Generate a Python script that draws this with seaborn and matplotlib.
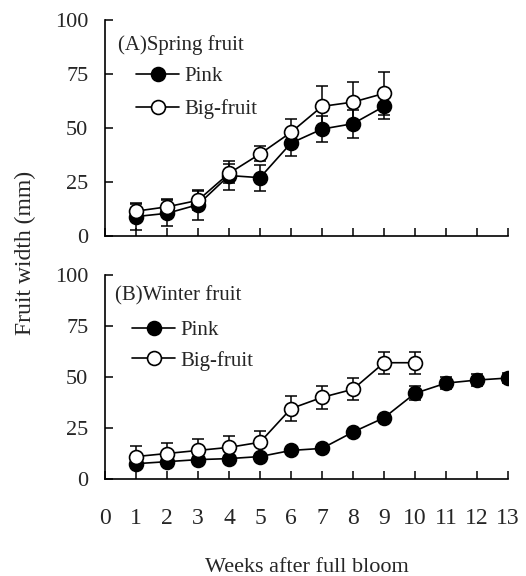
import numpy as np
import pandas as pd
import seaborn as sns
import matplotlib
matplotlib.use("Agg")
import matplotlib.pyplot as plt
from matplotlib.lines import Line2D

# ---- data ----
spring_weeks = [1, 2, 3, 4, 5, 6, 7, 8, 9]
spring_pink = [9, 10.5, 14.5, 28, 27, 43, 49.5, 52, 60]
spring_pink_err = [6, 6, 7, 6.5, 6, 6, 6, 6.5, 6]
spring_big = [11.5, 13.5, 16.5, 29, 38, 48, 60, 62, 66]
spring_big_err = [4, 3.5, 4.5, 4.5, 3.5, 6, 9.5, 9.5, 10]

winter_pink_weeks = [1, 2, 3, 4, 5, 6, 7, 8, 9, 10, 11, 12, 13]
winter_pink = [7.5, 8.5, 9.5, 10, 11, 14, 15, 23, 30, 42, 47, 48.5, 49.5]
winter_pink_err = [1, 1, 1, 1, 1, 1, 1, 1.5, 1.5, 3.5, 3, 3, 2.5]
winter_big_weeks = [1, 2, 3, 4, 5, 6, 7, 8, 9, 10]
winter_big = [11, 12.5, 14, 15.5, 18, 34.5, 40, 44, 57, 57]
winter_big_err = [5, 5, 5.5, 5.5, 5.5, 6, 5.5, 5.5, 5.5, 5.5]

series_labels = ["Pink", "Big-fruit"]
panel_titles = ["(A)Spring fruit", "(B)Winter fruit"]
x_ticks = list(range(0, 14))
y_ticks = [0, 25, 50, 75, 100]

sns.set_theme(style="white")
plt.rcParams['font.family'] = ['Liberation Serif', 'DejaVu Serif']

fig = plt.figure(figsize=(5.26, 5.76), dpi=100)
W, H = 526, 576
ax1 = fig.add_axes([105 / W, 1 - 236 / H, (508 - 105) / W, (236 - 20) / H])
ax2 = fig.add_axes([105 / W, 1 - 479 / H, (508 - 105) / W, (479 - 275) / H])

MS = 10
LW = 1.2


def draw(ax, x, y, e, filled, z):
    ax.errorbar(x, y, yerr=e, fmt='none', ecolor='black', elinewidth=1.1,
                capsize=4.5, capthick=1.1, zorder=z)
    df = pd.DataFrame({"week": x, "width": y})
    sns.lineplot(data=df, x="week", y="width", ax=ax, color='black',
                 linewidth=LW, marker='o', markersize=MS,
                 markerfacecolor='black' if filled else 'white',
                 markeredgecolor='black', markeredgewidth=1.2,
                 zorder=z + 1)


draw(ax1, spring_weeks, spring_pink, spring_pink_err, True, 1.5)
draw(ax1, spring_weeks, spring_big, spring_big_err, False, 2.5)
draw(ax2, winter_pink_weeks, winter_pink, winter_pink_err, True, 1.5)
draw(ax2, winter_big_weeks, winter_big, winter_big_err, False, 2.5)

handles = [
    Line2D([], [], color='black', lw=LW, marker='o', markersize=MS,
           markerfacecolor='black', markeredgecolor='black', markeredgewidth=1.2),
    Line2D([], [], color='black', lw=LW, marker='o', markersize=MS,
           markerfacecolor='white', markeredgecolor='black', markeredgewidth=1.2),
]

for ax, title, tx, ty, lx, ly, ls in [
    (ax1, panel_titles[0], 0.032, 0.885, 0.077, 0.783, 0.62),
    (ax2, panel_titles[1], 0.025, 0.90, 0.067, 0.775, 0.49),
]:
    ax.set_xlim(0, 13)
    ax.set_ylim(0, 100)
    ax.set_xticks(x_ticks)
    ax.set_yticks(y_ticks)
    ax.set_xlabel("")
    ax.set_ylabel("")
    for s in ['top', 'right']:
        ax.spines[s].set_visible(False)
    for s in ['left', 'bottom']:
        ax.spines[s].set_color('black')
        ax.spines[s].set_linewidth(1.2)
    ax.tick_params(axis='y', direction='in', length=6, width=1.1,
                   color='black', pad=12, labelsize=16, left=True)
    ax.tick_params(axis='x', direction='in', length=6, width=1.1,
                   color='black', pad=21, labelsize=17, bottom=True)
    ax.text(tx, ty, title, transform=ax.transAxes, ha='left', va='center',
            fontsize=15)
    ax.legend(handles, series_labels, loc='upper left',
              bbox_to_anchor=(lx, ly), frameon=False, fontsize=15,
              handlelength=2.07, handletextpad=0.24, labelspacing=ls,
              borderpad=0, borderaxespad=0)

ax1.tick_params(axis='x', labelbottom=False)
fig.text(307 / W, 1 - 572 / H, "Weeks after full bloom", ha='center',
         va='baseline', fontsize=16)
fig.text(25 / W, 1 - 253 / H, "Fruit width (mm)", rotation=90,
         ha='center', va='center', fontsize=17)

fig.savefig("out.png", dpi=100)
